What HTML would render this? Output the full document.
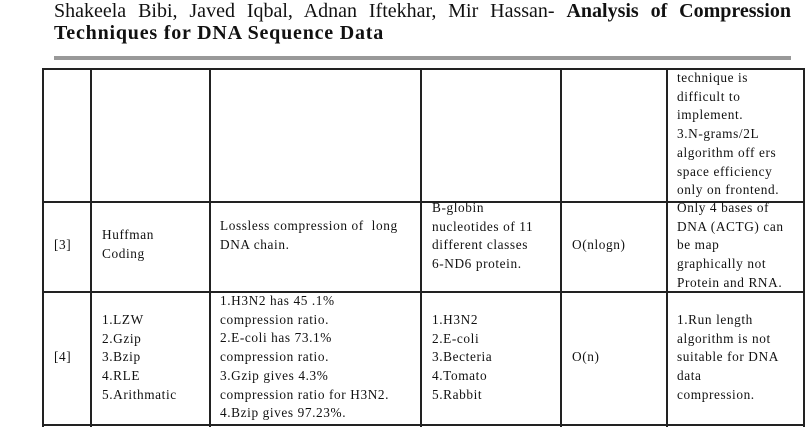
<!DOCTYPE html>
<html><head><meta charset="utf-8"><style>
body{margin:0;width:810px;height:427px;background:#fff;overflow:hidden;font-family:"Liberation Serif",serif;color:#111;position:relative}
.t{position:absolute;font-size:13.3px;letter-spacing:0.6px;line-height:18.7px;white-space:nowrap}
.v{position:absolute;top:68px;height:359px;width:1.5px;background:#222}
.h{position:absolute;left:42px;width:762px;height:1.5px;background:#222}
.ti{position:absolute;left:54px;font-size:20px;line-height:26px;white-space:nowrap}
</style></head><body>
<div>
<div class="ti" style="top:-2px;width:737px;text-align:justify;text-align-last:justify;word-spacing:3px">Shakeela Bibi, Javed Iqbal, Adnan Iftekhar, Mir Hassan- <b>Analysis of Compression</b></div>
<div class="ti" style="top:20px;letter-spacing:0.8px"><b>Techniques for DNA Sequence Data</b></div>
</div>
<div style="position:absolute;left:54px;top:56px;width:737px;height:4px;background:#999"></div>
<div>
<div class="h" style="top:68px;height:2px"></div>
<div class="h" style="top:201px"></div>
<div class="h" style="top:291px"></div>
<div class="h" style="top:424px"></div>
<div class="v" style="left:42px"></div>
<div class="v" style="left:90px"></div>
<div class="v" style="left:209px"></div>
<div class="v" style="left:420px"></div>
<div class="v" style="left:560px"></div>
<div class="v" style="left:666px"></div>
<div class="v" style="left:803px"></div>
<div class="t" style="left:677px;top:69px">technique is<br>difficult to<br>implement.<br>3.N-grams/2L<br>algorithm off ers<br>space efficiency<br>only on frontend.</div>
<div class="t" style="left:54px;top:236px">[3]</div>
<div class="t" style="left:102px;top:226px">Huffman<br>Coding</div>
<div class="t" style="left:220px;top:217px">Lossless compression of &nbsp;long<br>DNA chain.</div>
<div class="t" style="left:432px;top:199px">B-globin<br>nucleotides of 11<br>different classes<br>6-ND6 protein.</div>
<div class="t" style="left:572px;top:236px">O(nlogn)</div>
<div class="t" style="left:677px;top:199px">Only 4 bases of<br>DNA (ACTG) can<br>be map<br>graphically not<br>Protein and RNA.</div>
<div class="t" style="left:54px;top:348px">[4]</div>
<div class="t" style="left:102px;top:311px">1.LZW<br>2.Gzip<br>3.Bzip<br>4.RLE<br>5.Arithmatic</div>
<div class="t" style="left:220px;top:292px">1.H3N2 has 45 .1%<br>compression ratio.<br>2.E-coli has 73.1%<br>compression ratio.<br>3.Gzip gives 4.3%<br>compression ratio for H3N2.<br>4.Bzip gives 97.23%.</div>
<div class="t" style="left:432px;top:311px">1.H3N2<br>2.E-coli<br>3.Becteria<br>4.Tomato<br>5.Rabbit</div>
<div class="t" style="left:572px;top:348px">O(n)</div>
<div class="t" style="left:677px;top:311px">1.Run length<br>algorithm is not<br>suitable for DNA<br>data<br>compression.</div>
</div>
</body></html>
